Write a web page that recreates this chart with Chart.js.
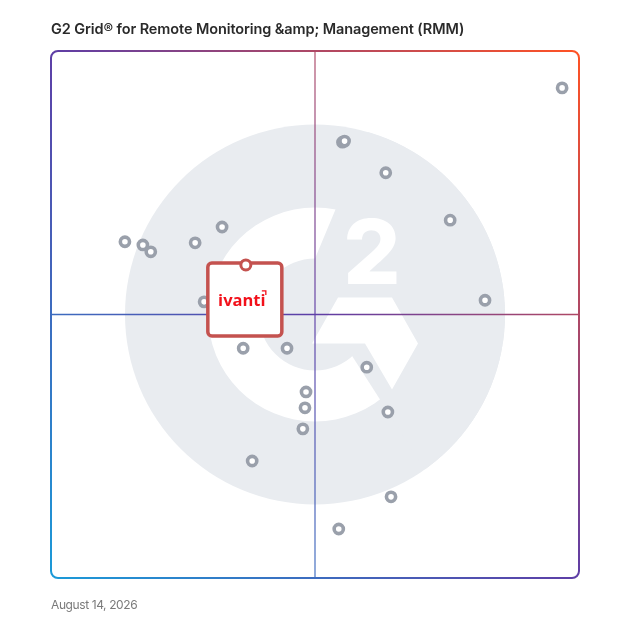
<!DOCTYPE html>
<html lang="en">
<head>
    <meta charset="UTF-8">
    <title>G2 Grid for RMM</title>
    <script src="https://cdn.jsdelivr.net/npm/chart.js"></script>
    <style>
        body { margin: 0; background: #fff; }
        #wrap { position: relative; width: 628px; height: 628px; }
        #title { position: absolute; left: 51px; top: 20px; font: 600 14.5px Inter, sans-serif; color: #2a2a2a; letter-spacing: -0.1px; }
        #date { position: absolute; left: 51px; top: 597px; font: 400 12px Inter, sans-serif; color: #7a7a7a; letter-spacing: -0.4px; }
    </style>
</head>
<body>
<div id="wrap">
    <canvas id="grid"></canvas>
    <div id="title">G2 Grid® for Remote Monitoring &amp;amp; Management (RMM)</div>
    <div id="date">August 14, 2026</div>
</div>
<script>
    // satisfaction (x) / market presence (y), 0-100
    const vendorX = [96.8, 55.2, 55.6, 63.4, 75.6, 82.2, 14.0, 17.4, 18.9, 27.3, 32.4, 29.0, 36.4, 44.7, 59.8, 48.3, 48.1, 47.7, 63.8, 38.1, 64.4, 54.5];
    const vendorY = [93.0, 82.7, 82.9, 76.9, 67.9, 52.7, 63.8, 63.2, 61.9, 63.6, 66.6, 52.4, 43.6, 43.6, 40.0, 35.3, 32.3, 28.3, 31.5, 22.2, 15.4, 9.3];
    const ivantiX = [36.9];
    const ivantiY = [59.4];
    const midValue = 50;

    const vendors = vendorX.map((x, i) => ({ x: x, y: vendorY[i] }));
    const ivanti = ivantiX.map((x, i) => ({ x: x, y: ivantiY[i] }));

    function diagGradient(ctx, a) {
        const g = ctx.createLinearGradient(a.left, a.bottom, a.right, a.top);
        g.addColorStop(0, '#1b9ad8');
        g.addColorStop(0.5, '#5e3ea6');
        g.addColorStop(1, '#ff5224');
        return g;
    }

    const gridPlugin = {
        id: 'gridBg',
        beforeDatasetsDraw(chart) {
            const ctx = chart.ctx, a = chart.chartArea;
            const cx = chart.scales.x.getPixelForValue(midValue);
            const cy = chart.scales.y.getPixelForValue(midValue);
            ctx.save();
            // G2 watermark
            ctx.beginPath();
            ctx.arc(cx, cy, 190, 0, Math.PI * 2);
            ctx.fillStyle = '#e9ecf0';
            ctx.fill();
            ctx.clip();
            ctx.beginPath();
            ctx.arc(cx, cy, 107, 0, Math.PI * 2);
            ctx.arc(cx, cy, 56, 0, Math.PI * 2, true);
            ctx.fillStyle = '#fff';
            ctx.fill();
            // opening of the G
            ctx.beginPath();
            ctx.moveTo(cx - 10, cy - 32);
            ctx.lineTo(cx + 66, cy - 214);
            ctx.lineTo(cx + 300, cy - 300);
            ctx.lineTo(cx + 300, cy + 300);
            ctx.lineTo(cx + 190, cy + 280);
            ctx.closePath();
            ctx.fillStyle = '#e9ecf0';
            ctx.fill();
            // chevron bar
            ctx.beginPath();
            ctx.moveTo(cx + 23, cy - 17);
            ctx.lineTo(cx + 77, cy - 17);
            ctx.lineTo(cx + 103, cy + 29);
            ctx.lineTo(cx + 77, cy + 75);
            ctx.lineTo(cx + 50, cy + 29);
            ctx.lineTo(cx - 3, cy + 29);
            ctx.closePath();
            ctx.fillStyle = '#fff';
            ctx.fill();
            ctx.font = '800 90px Inter, sans-serif';
            ctx.textAlign = 'center';
            ctx.textBaseline = 'alphabetic';
            ctx.fillText('2', cx + 57, cy - 31);
            ctx.restore();

            // quadrant lines
            ctx.save();
            ctx.strokeStyle = diagGradient(ctx, a);
            ctx.lineWidth = 1.6;
            ctx.beginPath();
            ctx.moveTo(a.left, cy);
            ctx.lineTo(a.right, cy);
            ctx.stroke();
            ctx.globalAlpha = 0.72;
            ctx.beginPath();
            ctx.moveTo(cx, a.top);
            ctx.lineTo(cx, a.bottom);
            ctx.stroke();
            ctx.globalAlpha = 1;
            ctx.lineWidth = 2;
            ctx.beginPath();
            ctx.roundRect(a.left, a.top, a.right - a.left, a.bottom - a.top, 7);
            ctx.stroke();
            ctx.restore();
        },
        beforeDatasetDraw(chart, args) {
            if (args.index !== 0) return;
            const p = chart.getDatasetMeta(0).data[0];
            const ctx = chart.ctx;
            const w = 74, h = 73;
            const left = p.x - w / 2 - 1, top = p.y - 2;
            ctx.save();
            ctx.beginPath();
            ctx.roundRect(left, top, w, h, 4);
            ctx.fillStyle = '#fff';
            ctx.fill();
            ctx.lineWidth = 3.5;
            ctx.strokeStyle = '#c4524f';
            ctx.stroke();
            ctx.fillStyle = '#f2101a';
            ctx.font = 'bold 16.5px "Open Sans", sans-serif';
            ctx.textAlign = 'center';
            ctx.textBaseline = 'alphabetic';
            ctx.fillText('ivanti', p.x - 4, top + 43);
            // small logo mark
            ctx.strokeStyle = '#f2101a';
            ctx.lineWidth = 1.3;
            ctx.beginPath();
            ctx.moveTo(p.x + 16, top + 28);
            ctx.lineTo(p.x + 20, top + 28);
            ctx.lineTo(p.x + 20, top + 32);
            ctx.stroke();
            ctx.restore();
        }
    };

    new Chart(document.getElementById('grid'), {
        type: 'scatter',
        data: {
            datasets: [{
                label: 'Ivanti',
                data: ivanti,
                pointRadius: 5,
                borderWidth: 3,
                borderColor: '#c4524f',
                backgroundColor: '#fff'
            }, {
                label: 'Vendors',
                data: vendors,
                pointRadius: 4.6,
                borderWidth: 3.6,
                borderColor: '#9aa0ab',
                backgroundColor: '#fff'
            }]
        },
        options: {
            responsive: true,
            maintainAspectRatio: false,
            animation: false,
            events: [],
            layout: { padding: { left: 51, right: 49, top: 51, bottom: 50 } },
            scales: {
                x: { min: 0, max: 100, display: false },
                y: { min: 0, max: 100, display: false }
            },
            plugins: {
                legend: { display: false },
                tooltip: { enabled: false }
            }
        },
        plugins: [gridPlugin]
    });
</script>
</body>
</html>
